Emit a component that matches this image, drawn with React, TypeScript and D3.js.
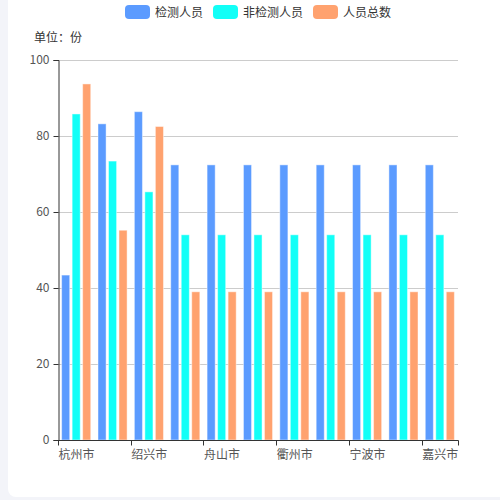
import React, { useEffect, useRef } from 'react';
import * as d3 from 'd3';

const cities = ['杭州市', '湖州市', '绍兴市', '金华市', '舟山市', '台州市', '衢州市', '丽水市', '宁波市', '温州市', '嘉兴市'];
const seriesNames = ['检测人员', '非检测人员', '人员总数'];
const tested = [43.4, 83.2, 86.4, 72.4, 72.4, 72.4, 72.4, 72.4, 72.4, 72.4, 72.4];
const untested = [85.8, 73.4, 65.3, 54, 54, 54, 54, 54, 54, 54, 54];
const total = [93.7, 55.2, 82.5, 39, 39, 39, 39, 39, 39, 39, 39];
const colors = ['#5b9bff', '#12fff7', '#ffa26f'];
const yTicks = [0, 20, 40, 60, 80, 100];

const font = '"Noto Sans CJK SC", "Noto Sans", sans-serif';

const App = () => {
  const ref = useRef<SVGSVGElement>(null);

  useEffect(() => {
    const svg = d3.select(ref.current);
    svg.selectAll('*').remove();

    const width = 500;
    const height = 500;
    const margin = { left: 58, right: 42, top: 60, bottom: 60 };

    svg.append('rect').attr('width', width).attr('height', height).attr('fill', '#f3f4f9');
    svg.append('rect')
      .attr('x', 8).attr('y', -10)
      .attr('width', 520).attr('height', 507)
      .attr('rx', 8)
      .attr('fill', '#ffffff');

    const x0 = d3.scaleBand().domain(cities).range([margin.left, width - margin.right]);
    const bw = x0.bandwidth();
    const x1 = d3.scaleBand()
      .domain(seriesNames)
      .range([bw * 0.1, bw * 0.9])
      .paddingInner(0.2308);
    const y = d3.scaleLinear().domain([0, 100]).range([height - margin.bottom, margin.top]);

    // grid
    svg.append('g')
      .selectAll('line')
      .data(yTicks.filter((t) => t > 0))
      .enter()
      .append('line')
      .attr('x1', margin.left).attr('x2', width - margin.right)
      .attr('y1', (d) => Math.round(y(d)) + 0.5).attr('y2', (d) => Math.round(y(d)) + 0.5)
      .attr('stroke', '#cccccc');

    // bars
    const data = [tested, untested, total];
    seriesNames.forEach((name, si) => {
      svg.append('g')
        .selectAll('rect')
        .data(cities)
        .enter()
        .append('rect')
        .attr('x', (c) => x0(c)! + x1(name)!)
        .attr('width', x1.bandwidth())
        .attr('y', (_, i) => y(data[si][i]))
        .attr('height', (_, i) => y(0) - y(data[si][i]))
        .attr('fill', colors[si])
        .attr('stroke', 'rgba(255,255,255,0.45)')
        .attr('stroke-width', 1);
    });

    // y axis
    const yAxis = d3.axisLeft(y).tickValues(yTicks).tickSize(5).tickPadding(4);
    const gy = svg.append('g')
      .attr('transform', `translate(${margin.left + 0.5},0)`)
      .call(yAxis);
    gy.select('.domain').attr('stroke', '#333');
    gy.selectAll('.tick line').attr('stroke', '#333');
    gy.selectAll('.tick text')
      .attr('fill', '#555')
      .style('font-size', '12px')
      .style('font-family', font);

    // x axis
    const baseY = Math.round(y(0)) + 0.5;
    svg.append('line')
      .attr('x1', margin.left).attr('x2', width - margin.right + 0.5)
      .attr('y1', baseY).attr('y2', baseY)
      .attr('stroke', '#333');
    const tickXs = cities.filter((_, i) => i % 2 === 0).map((c) => x0(c)!).concat([width - margin.right]);
    svg.append('g')
      .selectAll('line')
      .data(tickXs)
      .enter()
      .append('line')
      .attr('x1', (d) => Math.round(d) + 0.5).attr('x2', (d) => Math.round(d) + 0.5)
      .attr('y1', baseY).attr('y2', baseY + 5)
      .attr('stroke', '#333');
    svg.append('g')
      .selectAll('text')
      .data(cities.filter((_, i) => i % 2 === 0))
      .enter()
      .append('text')
      .attr('x', (c) => x0(c)! + 0.5)
      .attr('y', baseY + 18)
      .attr('fill', '#555')
      .style('font-size', '12px')
      .style('font-family', font)
      .text((c) => c);

    // unit label
    svg.append('text')
      .attr('x', 34).attr('y', 42)
      .attr('fill', '#333')
      .style('font-size', '12px')
      .style('font-family', font)
      .text('单位：份');

    // legend
    const legendX = [125, 213, 313];
    const legend = svg.append('g')
      .selectAll('g')
      .data(seriesNames)
      .enter()
      .append('g')
      .attr('transform', (_, i) => `translate(${legendX[i]},5)`);
    legend.append('rect')
      .attr('width', 25).attr('height', 14).attr('rx', 4)
      .attr('fill', (_, i) => colors[i]);
    legend.append('text')
      .attr('x', 30).attr('y', 11.5)
      .attr('fill', '#333')
      .style('font-size', '12px')
      .style('font-family', font)
      .text((d) => d);
  }, []);

  return (
    <div style={{ position: 'fixed', left: 0, top: 0, width: 500, height: 500 }}>
      <svg ref={ref} width={500} height={500} style={{ display: 'block' }} />
    </div>
  );
};

export default App;
